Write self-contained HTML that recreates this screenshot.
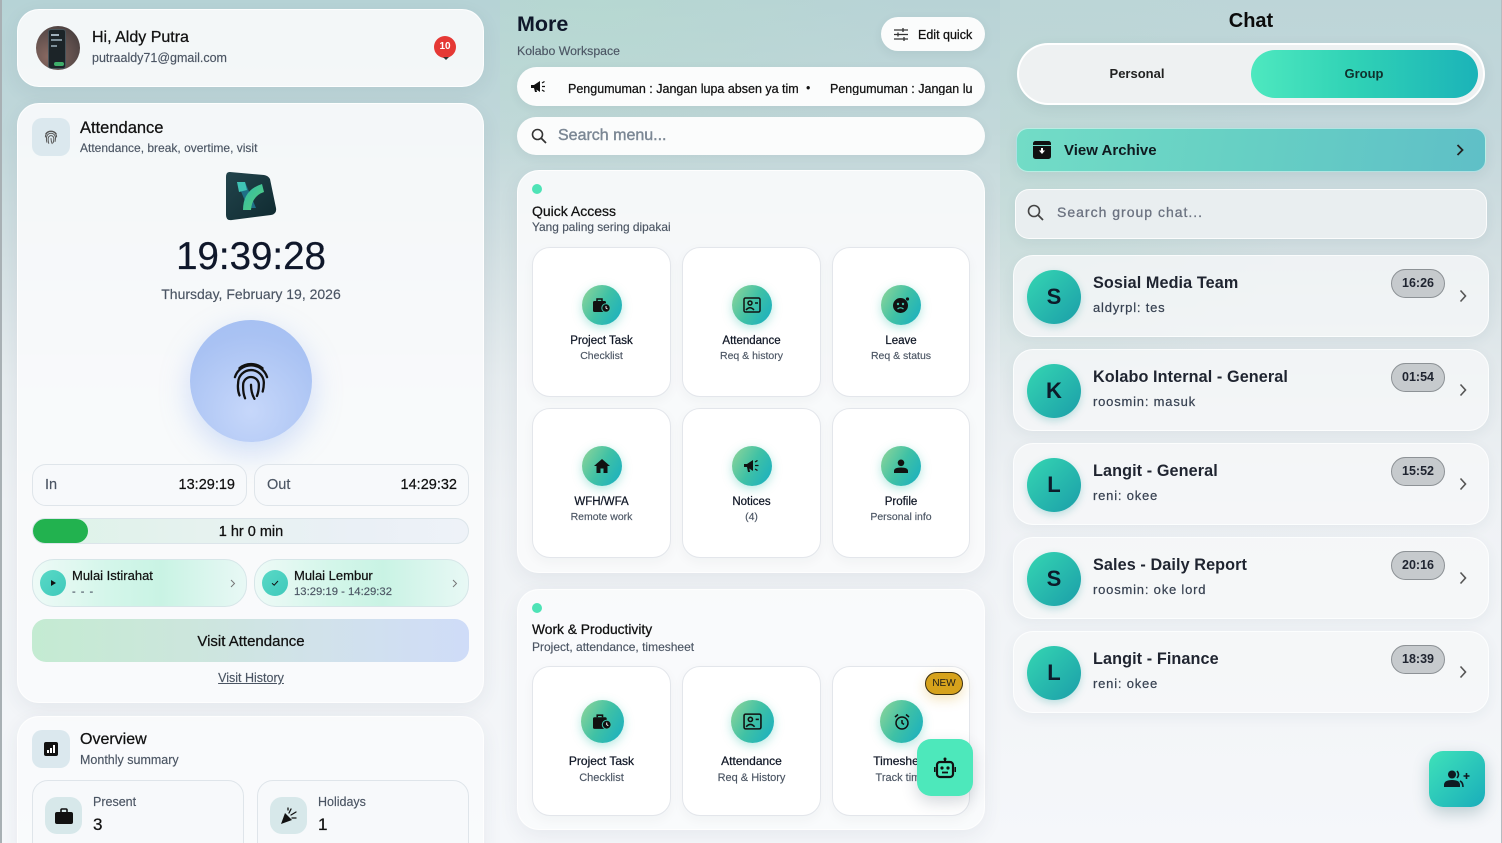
<!DOCTYPE html>
<html><head><meta charset="utf-8">
<style>
*{box-sizing:border-box;margin:0;padding:0}
html,body{width:1502px;height:843px;overflow:hidden}
body{font-family:"Liberation Sans",Arial,sans-serif;color:#111827;background:#f5f7fa}
#root{position:relative;width:1502px;height:843px;overflow:hidden}
.p{position:absolute;top:0;height:843px;overflow:hidden;background:linear-gradient(180deg,#b6d3d6 0%,#c0d7da 15%,#d3e0e3 30%,#e6ecef 45%,#eff2f5 60%,#f5f7fa 100%)}
.a{position:absolute}
.t{position:absolute;white-space:nowrap;line-height:1}
.m{-webkit-text-stroke:0.25px currentColor}
.card{position:absolute;background:rgba(250,251,252,0.9);border-radius:22px;box-shadow:0 6px 20px rgba(40,60,80,0.07);border:1px solid rgba(255,255,255,0.85)}
.box{position:absolute;background:#f7f9fb;border:1px solid #dfe5ea;border-radius:14px}
.tile{position:absolute;background:#fff;border:1px solid #e3e6eb;border-radius:18px;width:139px;height:150px;box-shadow:0 4px 12px rgba(30,40,60,0.04)}
.ic{position:absolute;border-radius:50%;background:linear-gradient(120deg,#93d699 0%,#3fc1a5 50%,#16aec3 100%);box-shadow:0 3px 10px rgba(40,190,170,0.35);display:flex;align-items:center;justify-content:center}
.tt{position:absolute;left:0;width:100%;text-align:center;white-space:nowrap;line-height:1;color:#111827;-webkit-text-stroke:0.25px #111827}
.ts{position:absolute;left:0;width:100%;text-align:center;white-space:nowrap;line-height:1;color:#4b5563;-webkit-text-stroke:0.15px #4b5563}
.sub{color:#4b5563;-webkit-text-stroke:0.15px #4b5563}
.item{position:absolute;left:1013px;width:476px;height:82px;border-radius:20px;background:rgba(246,247,249,0.78);box-shadow:0 4px 14px rgba(40,60,80,0.06);border:1px solid rgba(255,255,255,0.7)}
.av{position:absolute;left:13px;top:14px;width:54px;height:54px;border-radius:50%;background:linear-gradient(135deg,#35d6b2,#1b9ea9);box-shadow:0 3px 8px rgba(20,150,150,0.25);color:#0d1b2a;font-weight:bold;font-size:22px;line-height:54px;text-align:center}
.nm{position:absolute;left:79px;top:19px;font-weight:bold;font-size:16.2px;color:#1f2430;white-space:nowrap;line-height:1;letter-spacing:0.1px}
.ms{position:absolute;left:79px;top:44.5px;font-size:13px;color:#374151;white-space:nowrap;line-height:1;letter-spacing:0.8px;-webkit-text-stroke:0.2px #374151}
.tm{position:absolute;left:377px;top:13px;width:54px;height:29px;border-radius:15px;background:#c6cacd;border:1px solid #8d9296;font-weight:bold;font-size:12.5px;line-height:27px;text-align:center;color:#1f2430}
.chev{position:absolute;left:445px;top:33px}
</style></head><body><div id="root">

<!-- panels -->
<div class="p" style="left:0;width:500px;border-left:2px solid #a8b0b4"></div>
<div class="p" style="left:500px;width:500px;background:radial-gradient(ellipse 300px 200px at 20% 0%,rgba(180,220,205,0.5),rgba(180,220,205,0) 100%),linear-gradient(180deg,#b8d3d6 0%,#c2d8da 15%,#d4e1e3 30%,#e6ecef 45%,#eff2f5 60%,#f5f7fa 100%)"></div>
<div class="p" style="left:1000px;width:502px;background:radial-gradient(ellipse 250px 250px at 10% 20%,rgba(180,220,205,0.35),rgba(180,220,205,0) 100%),linear-gradient(180deg,#bdd5d8 0%,#c3d7db 15%,#d3dfe2 30%,#e4eaed 45%,#eff2f5 60%,#f5f7fa 100%);border-right:1px solid #b5bcc0"></div>

<!-- ============ LEFT ============ -->
<div class="card" style="left:17px;top:9px;width:467px;height:78px"></div>
<div class="a" style="left:36px;top:26px;width:44px;height:44px;border-radius:50%;overflow:hidden;background:radial-gradient(circle at 30% 70%,#8a6a62,#5b4c4a 60%,#3b3535)">
  <div class="a" style="left:12px;top:3px;width:18px;height:40px;border-radius:3px;background:#1c2428;border:1px solid #48545a"></div>
  <div class="a" style="left:15px;top:8px;width:8px;height:2px;background:#9fb0bb"></div>
  <div class="a" style="left:15px;top:13px;width:11px;height:2px;background:#7d8f99"></div>
  <div class="a" style="left:15px;top:19px;width:6px;height:2px;background:#7d8f99"></div>
  <div class="a" style="left:18px;top:36px;width:10px;height:4px;background:#3fae6a;border-radius:2px"></div>
</div>
<div class="t m" style="left:92px;top:30px;font-size:16px;color:#111">Hi, Aldy Putra</div>
<div class="t sub" style="left:92px;top:52px;font-size:12.5px">putraaldy71@gmail.com</div>
<div class="a" style="left:434px;top:36px;width:22px;height:22px;border-radius:50%;background:#e53935;color:#fff;font-size:10px;font-weight:bold;text-align:center;line-height:22px">10</div>
<div class="a" style="left:443px;top:57px;width:0;height:0;border-left:3px solid transparent;border-right:3px solid transparent;border-top:3px solid #333"></div>

<div class="card" style="left:17px;top:103px;width:467px;height:600px"></div>
<div class="a" style="left:32px;top:118px;width:38px;height:38px;border-radius:10px;background:#dbe8ee;display:flex;align-items:center;justify-content:center">
<svg width="18" height="18" viewBox="0 0 24 24" fill="none" stroke="#555" stroke-width="1.3" stroke-linecap="round"><path d="M5 7.5A9 9 0 0 1 19 7.5"/><path d="M4.5 12a7.5 7.5 0 0 1 15 0"/><path d="M6.5 19c-.6-1.8-.8-3.8-.5-6a6 6 0 0 1 12 0c0 1.8-.2 3.4-.6 5"/><path d="M9 20.5c-.7-2-.9-4.2-.8-6.5a3.8 3.8 0 0 1 7.6 0c0 2-.3 3.8-.9 5.5"/><path d="M12 14c0 2.6.5 4.8 1.6 6.8"/></svg></div>
<div class="t m" style="left:80px;top:120px;font-size:16.5px;color:#111">Attendance</div>
<div class="t sub" style="left:80px;top:141.5px;font-size:12px">Attendance, break, overtime, visit</div>

<!-- logo -->
<svg class="a" style="left:224px;top:170px" width="54" height="52" viewBox="0 0 54 52">
<defs><linearGradient id="lg" x1="0" y1="0" x2="1" y2="1"><stop offset="0" stop-color="#22444c"/><stop offset="1" stop-color="#0f2a30"/></linearGradient>
<linearGradient id="kg" x1="0" y1="0" x2="1" y2="1"><stop offset="0" stop-color="#2fb9a8"/><stop offset="1" stop-color="#59d07a"/></linearGradient></defs>
<path d="M6 2 L40 5 Q44 5.5 46 9 L52 38 Q53 44 47 45 L8 50 Q2 51 2 45 L2 7 Q2 1.5 6 2Z" fill="url(#lg)"/>
<path d="M13 12 L21 12 L32 38 L24 38Z" fill="#1f6f86"/>
<path d="M19 40 Q19 20 38 14 L40 22 Q28 26 27 40Z" fill="url(#kg)"/>
<path d="M13 12 L21 12 L23 20 L15 22Z" fill="#3fc3b5"/>
</svg>

<div class="t m" style="left:1px;width:500px;text-align:center;top:237.7px;font-size:38.5px;color:#0f172a">19:39:28</div>
<div class="t sub" style="left:1px;width:500px;text-align:center;top:287px;font-size:14px">Thursday, February 19, 2026</div>

<div class="a" style="left:190px;top:320px;width:122px;height:122px;border-radius:50%;background:radial-gradient(circle at 50% 75%,#c6d7fa,#a9c2f3 70%,#a4bff2);box-shadow:0 10px 30px rgba(130,165,240,0.35);display:flex;align-items:center;justify-content:center">
<svg width="46" height="46" viewBox="0 0 24 24" fill="none" stroke="#111" stroke-width="1.2" stroke-linecap="round"><path d="M6 5.3A9.5 9.5 0 0 1 18 5.3"/><path d="M3.6 10A8.8 8.8 0 0 1 20.4 10"/><path d="M6 19.5c-.8-2-1-4.2-.7-6.5a6.7 6.7 0 0 1 13.4 0c0 1.6-.2 3.1-.6 4.5"/><path d="M8.9 21c-.9-2.2-1.1-4.6-1-7a4.1 4.1 0 0 1 8.2 0c0 2.1-.3 4-1 5.8"/><path d="M12 14c0 2.8.6 5.2 1.8 7.3"/></svg></div>

<div class="box" style="left:32px;top:464px;width:215px;height:42px"></div>
<div class="t sub" style="left:45px;top:478px;font-size:14.5px">In</div>
<div class="t m" style="left:33px;width:202px;text-align:right;top:478px;font-size:14.5px;color:#111">13:29:19</div>
<div class="box" style="left:254px;top:464px;width:215px;height:42px"></div>
<div class="t sub" style="left:267px;top:478px;font-size:14.5px">Out</div>
<div class="t m" style="left:255px;width:202px;text-align:right;top:478px;font-size:14.5px;color:#111">14:29:32</div>

<div class="a" style="left:32px;top:518px;width:437px;height:26px;border-radius:13px;background:linear-gradient(90deg,#ddf3e8 0%,#e6f2ef 40%,#eaf0f6 75%,#eef2f8 100%);border:1px solid #dce5ea">
  <div class="a" style="left:0;top:0;width:55px;height:24px;border-radius:12px;background:#22b24f"></div>
</div>
<div class="t m" style="left:1px;width:500px;text-align:center;top:525px;font-size:14.5px;color:#111">1 hr 0 min</div>

<div class="a" style="left:32px;top:559px;width:215px;height:48px;border-radius:22px;background:linear-gradient(90deg,#eefaf7 0%,#d4f6ea 35%,#c9f3e4 60%,#e8f8f5 100%);border:1px solid #d6e6e8"></div>
<div class="a" style="left:40px;top:570px;width:26px;height:26px;border-radius:50%;background:linear-gradient(135deg,#59d9c6,#3fc9bb);display:flex;align-items:center;justify-content:center"><svg width="8" height="8" viewBox="0 0 8 8"><path d="M2 1 L7 4 L2 7Z" fill="#111"/></svg></div>
<div class="t m" style="left:72px;top:569px;font-size:13px;color:#111">Mulai Istirahat</div>
<div class="t sub" style="left:72px;top:586.5px;font-size:11px;letter-spacing:1px">- - -</div>
<svg class="a" style="left:230px;top:579px" width="6" height="9" viewBox="0 0 6 9"><path d="M1 1 L4.5 4.5 L1 8" fill="none" stroke="#777" stroke-width="1"/></svg>

<div class="a" style="left:254px;top:559px;width:215px;height:48px;border-radius:22px;background:linear-gradient(90deg,#eefaf7 0%,#d4f6ea 35%,#c9f3e4 60%,#e8f8f5 100%);border:1px solid #d6e6e8"></div>
<div class="a" style="left:262px;top:570px;width:26px;height:26px;border-radius:50%;background:linear-gradient(135deg,#59d9c6,#3fc9bb);display:flex;align-items:center;justify-content:center"><svg width="10" height="10" viewBox="0 0 10 10"><path d="M2 5.2 L4.2 7.2 L8 3" fill="none" stroke="#111" stroke-width="1"/></svg></div>
<div class="t m" style="left:294px;top:569px;font-size:13px;color:#111">Mulai Lembur</div>
<div class="t sub" style="left:294px;top:587px;font-size:11.3px">13:29:19 - 14:29:32</div>
<svg class="a" style="left:452px;top:579px" width="6" height="9" viewBox="0 0 6 9"><path d="M1 1 L4.5 4.5 L1 8" fill="none" stroke="#777" stroke-width="1"/></svg>

<div class="a" style="left:32px;top:619px;width:437px;height:43px;border-radius:14px;background:linear-gradient(90deg,#c4ebd2 0%,#cce6dc 35%,#d1e2ea 65%,#cfdcf8 100%)"></div>
<div class="t m" style="left:1px;width:500px;text-align:center;top:634px;font-size:15px;color:#111">Visit Attendance</div>
<div class="t sub" style="left:1px;width:500px;text-align:center;top:672px;font-size:12.5px;text-decoration:underline">Visit History</div>

<div class="card" style="left:17px;top:716px;width:467px;height:150px"></div>
<div class="a" style="left:32px;top:730px;width:38px;height:38px;border-radius:10px;background:#dbe8ee;display:flex;align-items:center;justify-content:center">
<svg width="14" height="14" viewBox="0 0 14 14"><rect x="0" y="0" width="14" height="14" rx="2" fill="#111"/><rect x="3" y="8" width="2" height="3" fill="#fff"/><rect x="6" y="6" width="2" height="5" fill="#fff"/><rect x="9" y="3" width="2" height="8" fill="#fff"/></svg></div>
<div class="t m" style="left:80px;top:732px;font-size:16px;color:#111">Overview</div>
<div class="t sub" style="left:80px;top:754px;font-size:12.5px">Monthly summary</div>

<div class="box" style="left:32px;top:780px;width:212px;height:80px;border-radius:16px"></div>
<div class="a" style="left:45px;top:797px;width:37px;height:37px;border-radius:12px;background:#d7e8ea;display:flex;align-items:center;justify-content:center">
<svg width="18" height="16" viewBox="0 0 18 16"><rect x="0" y="4" width="18" height="12" rx="2" fill="#111"/><path d="M6 4 V2 Q6 1 7 1 H11 Q12 1 12 2 V4" fill="none" stroke="#111" stroke-width="1.6"/></svg></div>
<div class="t sub" style="left:93px;top:795.5px;font-size:12.5px">Present</div>
<div class="t m" style="left:93px;top:816px;font-size:17px;color:#111">3</div>

<div class="box" style="left:257px;top:780px;width:212px;height:80px;border-radius:16px"></div>
<div class="a" style="left:270px;top:797px;width:37px;height:37px;border-radius:12px;background:#d7e8ea;display:flex;align-items:center;justify-content:center">
<svg width="18" height="18" viewBox="0 0 18 18"><path d="M1 17 L5 6 L12 13Z" fill="#111"/><path d="M9 6 L11 2 M11 8 L16 5 M12 11 L16 11 M8 3 L8 1" stroke="#111" stroke-width="1.3" stroke-linecap="round"/></svg></div>
<div class="t sub" style="left:318px;top:795.5px;font-size:12.5px">Holidays</div>
<div class="t m" style="left:318px;top:816px;font-size:17px;color:#111">1</div>

<!-- ============ MIDDLE ============ -->
<div class="t" style="left:517px;top:14px;font-size:21.5px;font-weight:bold;color:#0f172a">More</div>
<div class="t sub" style="left:517px;top:45px;font-size:12.3px">Kolabo Workspace</div>

<div class="a" style="left:881px;top:17px;width:104px;height:34px;border-radius:17px;background:#fbfcfc;box-shadow:0 3px 10px rgba(40,60,80,0.08)"></div>
<svg class="a" style="left:894px;top:28px" width="14" height="13" viewBox="0 0 14 13" stroke="#333" stroke-width="1.3"><path d="M0 2 H14 M0 6.5 H14 M0 11 H14"/><path d="M9 0 V4 M4 4.5 V8.5 M10 9 V13"/></svg>
<div class="t m" style="left:918px;top:28.5px;font-size:12.5px;color:#111">Edit quick</div>

<div class="a" style="left:517px;top:67px;width:468px;height:39px;border-radius:20px;background:#fbfcfc;box-shadow:0 3px 10px rgba(40,60,80,0.07);overflow:hidden">
  <svg class="a" style="left:14px;top:14px" width="16" height="12" viewBox="0 0 16 12"><path d="M0 4 H3 L9 0 V11 L3 7 H0Z" fill="#111"/><path d="M3 7 L4 11 H6 L5 7Z" fill="#111"/><path d="M11 5.5 H14 M11 2 L13.5 0.5 M11 9 L13.5 10.5" stroke="#111" stroke-width="1.2"/></svg>
  <div class="t m" style="left:51px;top:15.5px;font-size:12.5px;color:#111">Pengumuman : Jangan lupa absen ya tim</div>
  <div class="t" style="left:289px;top:14.5px;font-size:12.5px;color:#111">•</div>
  <div class="t m" style="left:313px;top:15.5px;font-size:12.5px;color:#111;width:142px;overflow:hidden">Pengumuman : Jangan lupa absen ya tim</div>
</div>

<div class="a" style="left:517px;top:117px;width:468px;height:38px;border-radius:19px;background:#fbfcfc;box-shadow:0 3px 10px rgba(40,60,80,0.07)"></div>
<svg class="a" style="left:531px;top:128px" width="16" height="16" viewBox="0 0 16 16"><circle cx="6.5" cy="6.5" r="5" fill="none" stroke="#333" stroke-width="1.6"/><path d="M10 10 L15 15" stroke="#333" stroke-width="1.8"/></svg>
<div class="t" style="left:558px;top:128px;font-size:16px;color:#7b8794;-webkit-text-stroke:0.4px #7b8794">Search menu...</div>

<div class="card" style="left:517px;top:170px;width:468px;height:403px"></div>
<div class="a" style="left:532px;top:184px;width:10px;height:10px;border-radius:50%;background:#4ee3b6"></div>
<div class="t m" style="left:532px;top:203.5px;font-size:14px;color:#111">Quick Access</div>
<div class="t sub" style="left:532px;top:221.5px;font-size:11.9px">Yang paling sering dipakai</div>

<!-- row 1 -->
<div class="tile" style="left:532px;top:247px">
  <div class="ic" style="left:49px;top:37px;width:40px;height:40px"><svg width="18" height="16" viewBox="0 0 18 16"><rect x="0" y="4" width="13" height="11" rx="1.5" fill="#111"/><path d="M4 4 V2 H9 V4" fill="none" stroke="#111" stroke-width="1.5"/><circle cx="13" cy="11" r="4.2" fill="#111" stroke="#3ec0a8" stroke-width="1"/><path d="M13 9 V11 L14.5 12" stroke="#fff" stroke-width="0.9" fill="none"/></svg></div>
  <div class="tt" style="top:87.5px;font-size:11.5px">Project Task</div>
  <div class="ts" style="top:102.5px;font-size:10.5px">Checklist</div>
</div>
<div class="tile" style="left:682px;top:247px">
  <div class="ic" style="left:49px;top:37px;width:40px;height:40px"><svg width="18" height="16" viewBox="0 0 18 16" fill="none" stroke="#111" stroke-width="1.5"><rect x="1" y="1" width="16" height="14" rx="1.5"/><circle cx="7" cy="6" r="2"/><path d="M3 13 Q7 8.5 11 13"/><path d="M12 6 H15"/></svg></div>
  <div class="tt" style="top:87.5px;font-size:11.5px">Attendance</div>
  <div class="ts" style="top:102.5px;font-size:10.5px">Req &amp; history</div>
</div>
<div class="tile" style="left:832px;top:247px;width:138px">
  <div class="ic" style="left:48px;top:37px;width:40px;height:40px"><svg width="18" height="18" viewBox="0 0 18 18"><circle cx="8.5" cy="9.5" r="7.5" fill="#111"/><circle cx="6" cy="8" r="1.2" fill="#3ec0a8"/><circle cx="11" cy="8" r="1.2" fill="#3ec0a8"/><path d="M5.5 13 Q8.5 10.5 11.5 13" stroke="#3ec0a8" stroke-width="1.2" fill="none"/><circle cx="15.5" cy="3" r="1.6" fill="#111"/></svg></div>
  <div class="tt" style="top:87.5px;font-size:11.5px">Leave</div>
  <div class="ts" style="top:102.5px;font-size:10.5px">Req &amp; status</div>
</div>
<!-- row 2 -->
<div class="tile" style="left:532px;top:408px">
  <div class="ic" style="left:49px;top:37px;width:40px;height:40px"><svg width="16" height="14" viewBox="0 0 16 14"><path d="M8 0 L16 7 H13.5 V14 H9.5 V9.5 H6.5 V14 H2.5 V7 H0Z" fill="#111"/></svg></div>
  <div class="tt" style="top:88px;font-size:11.5px">WFH/WFA</div>
  <div class="ts" style="top:103px;font-size:10.5px">Remote work</div>
</div>
<div class="tile" style="left:682px;top:408px">
  <div class="ic" style="left:49px;top:37px;width:40px;height:40px"><svg width="17" height="13" viewBox="0 0 17 13"><path d="M0 4 H3 L9 0 V11 L3 7 H0Z" fill="#111"/><path d="M3 7 L4 12 H6 L5 7Z" fill="#111"/><path d="M11 5.5 H14.5 M11 2 L13.5 0.5 M11 9 L13.5 10.5" stroke="#111" stroke-width="1.3"/></svg></div>
  <div class="tt" style="top:88px;font-size:11.5px">Notices</div>
  <div class="ts" style="top:103px;font-size:10.5px">(4)</div>
</div>
<div class="tile" style="left:832px;top:408px;width:138px">
  <div class="ic" style="left:48px;top:37px;width:40px;height:40px"><svg width="14" height="14" viewBox="0 0 14 14"><circle cx="7" cy="3.8" r="3.3" fill="#111"/><path d="M0 14 V12 Q0 8.5 7 8.5 Q14 8.5 14 12 V14Z" fill="#111"/></svg></div>
  <div class="tt" style="top:88px;font-size:11.5px">Profile</div>
  <div class="ts" style="top:103px;font-size:10.5px">Personal info</div>
</div>

<div class="card" style="left:517px;top:589px;width:468px;height:241px"></div>
<div class="a" style="left:532px;top:603px;width:10px;height:10px;border-radius:50%;background:#4ee3b6"></div>
<div class="t m" style="left:532px;top:622.5px;font-size:13.8px;color:#111">Work &amp; Productivity</div>
<div class="t sub" style="left:532px;top:640.5px;font-size:12px">Project, attendance, timesheet</div>

<div class="tile" style="left:532px;top:666px;height:150px">
  <div class="ic" style="left:48px;top:33px;width:43px;height:43px"><svg width="19" height="17" viewBox="0 0 18 16"><rect x="0" y="4" width="13" height="11" rx="1.5" fill="#111"/><path d="M4 4 V2 H9 V4" fill="none" stroke="#111" stroke-width="1.5"/><circle cx="13" cy="11" r="4.2" fill="#111" stroke="#3ec0a8" stroke-width="1"/><path d="M13 9 V11 L14.5 12" stroke="#fff" stroke-width="0.9" fill="none"/></svg></div>
  <div class="tt" style="top:87.5px;font-size:12px">Project Task</div>
  <div class="ts" style="top:105.5px;font-size:11px">Checklist</div>
</div>
<div class="tile" style="left:682px;top:666px;height:150px">
  <div class="ic" style="left:48px;top:33px;width:43px;height:43px"><svg width="19" height="17" viewBox="0 0 18 16" fill="none" stroke="#111" stroke-width="1.5"><rect x="1" y="1" width="16" height="14" rx="1.5"/><circle cx="7" cy="6" r="2"/><path d="M3 13 Q7 8.5 11 13"/><path d="M12 6 H15"/></svg></div>
  <div class="tt" style="top:87.5px;font-size:12px">Attendance</div>
  <div class="ts" style="top:105.5px;font-size:11px">Req &amp; History</div>
</div>
<div class="tile" style="left:832px;top:666px;width:138px;height:150px;overflow:hidden">
  <div class="ic" style="left:47px;top:33px;width:43px;height:43px"><svg width="18" height="18" viewBox="0 0 18 18" fill="none" stroke="#111" stroke-width="1.5"><circle cx="9" cy="10" r="6"/><path d="M9 7 V10 L11 11.5"/><path d="M2 4 L5 1.5 M16 4 L13 1.5"/></svg></div>
  <div class="tt" style="top:87.5px;font-size:12px">Timesheet</div>
  <div class="ts" style="top:105.5px;font-size:11px">Track time</div>
</div>
<div class="a" style="left:925px;top:672px;width:38px;height:23px;border-radius:12px;background:#d6a21c;border:1px solid #3a2e10;box-shadow:0 4px 12px rgba(214,162,28,0.3);font-size:10px;line-height:21px;text-align:center;color:#1a1a1a">NEW</div>
<div class="a" style="left:917px;top:739px;width:56px;height:57px;border-radius:14px;background:#4de8bb;box-shadow:0 6px 16px rgba(40,60,80,0.2);display:flex;align-items:center;justify-content:center">
<svg width="22" height="22" viewBox="0 0 22 22"><path d="M11 1 V4" stroke="#111" stroke-width="2"/><circle cx="11" cy="2" r="1.5" fill="#111"/><rect x="3" y="5" width="16" height="15" rx="3" fill="none" stroke="#111" stroke-width="2.2"/><circle cx="8" cy="11" r="1.6" fill="#111"/><circle cx="14" cy="11" r="1.6" fill="#111"/><path d="M8 15.5 H14" stroke="#111" stroke-width="1.8"/><path d="M0.5 10 V15 M21.5 10 V15" stroke="#111" stroke-width="2"/></svg></div>

<!-- ============ RIGHT ============ -->
<div class="t" style="left:1001px;width:500px;text-align:center;top:11px;font-size:20px;font-weight:bold;color:#0b0b0b">Chat</div>
<div class="a" style="left:1017px;top:43px;width:468px;height:62px;border-radius:31px;background:#eef1f2;border:2px solid rgba(255,255,255,0.95);box-shadow:0 4px 14px rgba(40,60,80,0.08)"></div>
<div class="a" style="left:1251px;top:50px;width:227px;height:48px;border-radius:24px;background:linear-gradient(90deg,#4ee8bf 0%,#30d2b6 45%,#1bb3b8 100%)"></div>
<div class="t" style="left:1037px;width:200px;text-align:center;top:67px;font-size:13px;font-weight:bold;color:#222">Personal</div>
<div class="t" style="left:1264px;width:200px;text-align:center;top:67px;font-size:13px;font-weight:bold;color:#10302c">Group</div>

<div class="a" style="left:1016px;top:128px;width:470px;height:44px;border-radius:12px;background:linear-gradient(100deg,#72dcc6 0%,#66cfc4 50%,#5fbfc7 100%);border:1px solid rgba(255,255,255,0.5);box-shadow:0 4px 12px rgba(40,80,90,0.08)"></div>
<svg class="a" style="left:1033px;top:141px" width="18" height="18" viewBox="0 0 18 18"><rect x="0" y="0" width="18" height="18" rx="2.5" fill="#111"/><path d="M0 4.5 H18" stroke="#6fd6c4" stroke-width="1"/><path d="M6 9.5 H12 L9 13Z" fill="#fff"/><rect x="8" y="7" width="2" height="3" fill="#fff"/></svg>
<div class="t" style="left:1064px;top:142.5px;font-size:15px;font-weight:bold;color:#0f1a1f">View Archive</div>
<svg class="a" style="left:1456px;top:144px" width="8" height="12" viewBox="0 0 8 12"><path d="M1.5 1 L6.5 6 L1.5 11" fill="none" stroke="#222" stroke-width="1.8"/></svg>

<div class="a" style="left:1015px;top:189px;width:472px;height:50px;border-radius:14px;background:#e9eef0;border:1px solid rgba(255,255,255,0.8);box-shadow:0 4px 12px rgba(40,60,80,0.06)"></div>
<svg class="a" style="left:1027px;top:204px" width="17" height="17" viewBox="0 0 17 17"><circle cx="7" cy="7" r="5.5" fill="none" stroke="#444" stroke-width="1.6"/><path d="M11 11 L16 16" stroke="#444" stroke-width="1.8"/></svg>
<div class="t" style="left:1057px;top:205px;font-size:14px;color:#6b7280;letter-spacing:1px;-webkit-text-stroke:0.3px #6b7280">Search group chat...</div>

<div class="item" style="top:255px"><div class="av">S</div><div class="nm">Sosial Media Team</div><div class="ms">aldyrpl: tes</div><div class="tm">16:26</div><svg class="chev" width="8" height="14" viewBox="0 0 8 14"><path d="M1.5 1.5 L6.5 7 L1.5 12.5" fill="none" stroke="#555" stroke-width="1.6"/></svg></div>
<div class="item" style="top:349px"><div class="av">K</div><div class="nm">Kolabo Internal - General</div><div class="ms">roosmin: masuk</div><div class="tm">01:54</div><svg class="chev" width="8" height="14" viewBox="0 0 8 14"><path d="M1.5 1.5 L6.5 7 L1.5 12.5" fill="none" stroke="#555" stroke-width="1.6"/></svg></div>
<div class="item" style="top:443px"><div class="av">L</div><div class="nm">Langit - General</div><div class="ms">reni: okee</div><div class="tm">15:52</div><svg class="chev" width="8" height="14" viewBox="0 0 8 14"><path d="M1.5 1.5 L6.5 7 L1.5 12.5" fill="none" stroke="#555" stroke-width="1.6"/></svg></div>
<div class="item" style="top:537px"><div class="av">S</div><div class="nm">Sales - Daily Report</div><div class="ms">roosmin: oke lord</div><div class="tm">20:16</div><svg class="chev" width="8" height="14" viewBox="0 0 8 14"><path d="M1.5 1.5 L6.5 7 L1.5 12.5" fill="none" stroke="#555" stroke-width="1.6"/></svg></div>
<div class="item" style="top:631px"><div class="av">L</div><div class="nm">Langit - Finance</div><div class="ms">reni: okee</div><div class="tm">18:39</div><svg class="chev" width="8" height="14" viewBox="0 0 8 14"><path d="M1.5 1.5 L6.5 7 L1.5 12.5" fill="none" stroke="#555" stroke-width="1.6"/></svg></div>

<div class="a" style="left:1429px;top:751px;width:56px;height:56px;border-radius:14px;background:linear-gradient(135deg,#3fe2b9,#19adbb);box-shadow:0 6px 16px rgba(20,80,90,0.25);display:flex;align-items:center;justify-content:center">
<svg width="26" height="18" viewBox="0 0 26 18"><circle cx="8" cy="4.5" r="4" fill="#0f1a22"/><path d="M0 17 V15 Q0 10 8 10 Q16 10 16 15 V17Z" fill="#0f1a22"/><path d="M13 1 Q16 4.5 13 8" fill="none" stroke="#0f1a22" stroke-width="1.6"/><path d="M16 11 Q19 12.5 19 17" fill="none" stroke="#0f1a22" stroke-width="1.6"/><path d="M22.5 3 V9 M19.5 6 H25.5" stroke="#0f1a22" stroke-width="1.6"/></svg></div>

</div></body></html>
